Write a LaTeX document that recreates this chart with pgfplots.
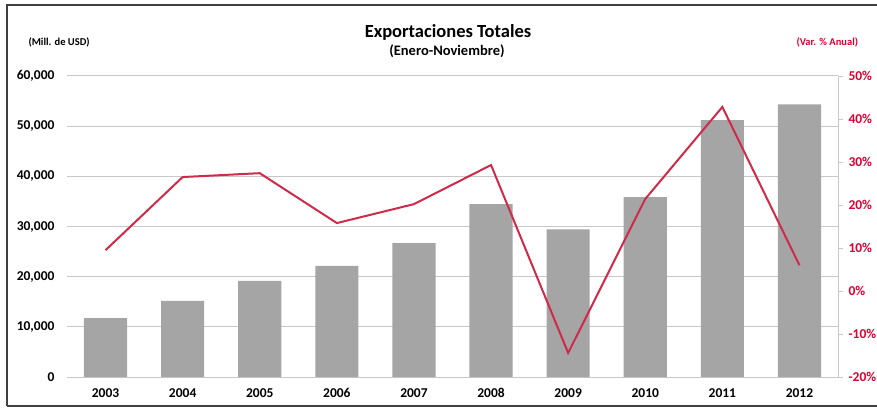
\documentclass[border=0pt]{standalone}
\usepackage{fontspec}
\setmainfont{Carlito}
\usepackage{pgfplots}
\pgfplotsset{compat=1.18}
\definecolor{bargray}{RGB}{165,165,165}
\definecolor{linered}{RGB}{208,42,75}
\definecolor{labred}{RGB}{220,0,50}
\definecolor{gridgray}{RGB}{200,200,200}
\begin{document}
\begin{tikzpicture}
\useasboundingbox (0pt,0pt) rectangle (877pt,407pt);
\draw[line width=1.2pt, black!75] (7pt,1pt) -- (7pt,402pt) -- (877pt,402pt);
\draw[line width=1.2pt, black!75] (7pt,1pt) -- (877pt,1pt);
\begin{axis}[at={(67pt,30pt)}, anchor=south west, scale only axis,
  width=771pt, height=301pt,
  xmin=-0.5, xmax=9.5, ymin=0, ymax=60000,
  xtick={0,...,9}, xticklabels={2003,2004,2005,2006,2007,2008,2009,2010,2011,2012},
  ytick={0,10000,...,60000},
  /pgf/number format/.cd, 1000 sep={,}, assume math mode=true, /pgfplots/.cd,
  scaled y ticks=false,
  tick label style={font=\bfseries\fontsize{13.5}{15}\selectfont},
  ymajorgrids, grid style={gridgray, line width=1pt},
  axis x line*=bottom, axis y line*=left,
  x axis line style={gridgray, line width=1pt},
  y axis line style={draw=none},
  major tick length=0pt,
  xticklabel style={yshift=-8pt},
  yticklabel style={xshift=-9pt},
  clip=false]
\addplot[ybar, bar width=0.56, fill=bargray, draw=none] coordinates {
(0,11750) (1,15150) (2,19150) (3,22150) (4,26700) (5,34450) (6,29450) (7,35850) (8,51200) (9,54350)};
\end{axis}
\begin{axis}[at={(67pt,30pt)}, anchor=south west, scale only axis,
  width=771pt, height=301pt,
  xmin=-0.5, xmax=9.5, ymin=-20, ymax=50,
  ytick={-20,-10,...,50},
  yticklabel={\pgfmathprintnumber{\tick}\%},
  /pgf/number format/.cd, assume math mode=true, /pgfplots/.cd,
  axis y line*=right, axis x line=none,
  y axis line style={gridgray, line width=1pt},
  ytick style={gridgray, line width=1pt},
  tick align=outside, major tick length=5pt,
  yticklabel style={font=\bfseries\fontsize{13.5}{15}\selectfont, text=labred, xshift=2pt},
  clip=false]
\addplot[linered, line width=2pt, mark=none] coordinates {
(0,9.5) (1,26.5) (2,27.4) (3,15.8) (4,20.2) (5,29.3) (6,-14.4) (7,21.4) (8,42.8) (9,6)};
\end{axis}
\node[font=\bfseries\fontsize{18.5}{20}\selectfont] at (448pt,375pt) {Exportaciones Totales};
\node[font=\bfseries\fontsize{14.5}{16}\selectfont] at (447pt,356pt) {(Enero-Noviembre)};
\node[font=\bfseries\fontsize{10.5}{12}\selectfont, anchor=west] at (25pt,365pt) {(Mill. de USD)};
\node[font=\bfseries\fontsize{10.5}{12}\selectfont, anchor=west, text=labred] at (793pt,365pt) {(Var. \% Anual)};
\end{tikzpicture}
\end{document}
